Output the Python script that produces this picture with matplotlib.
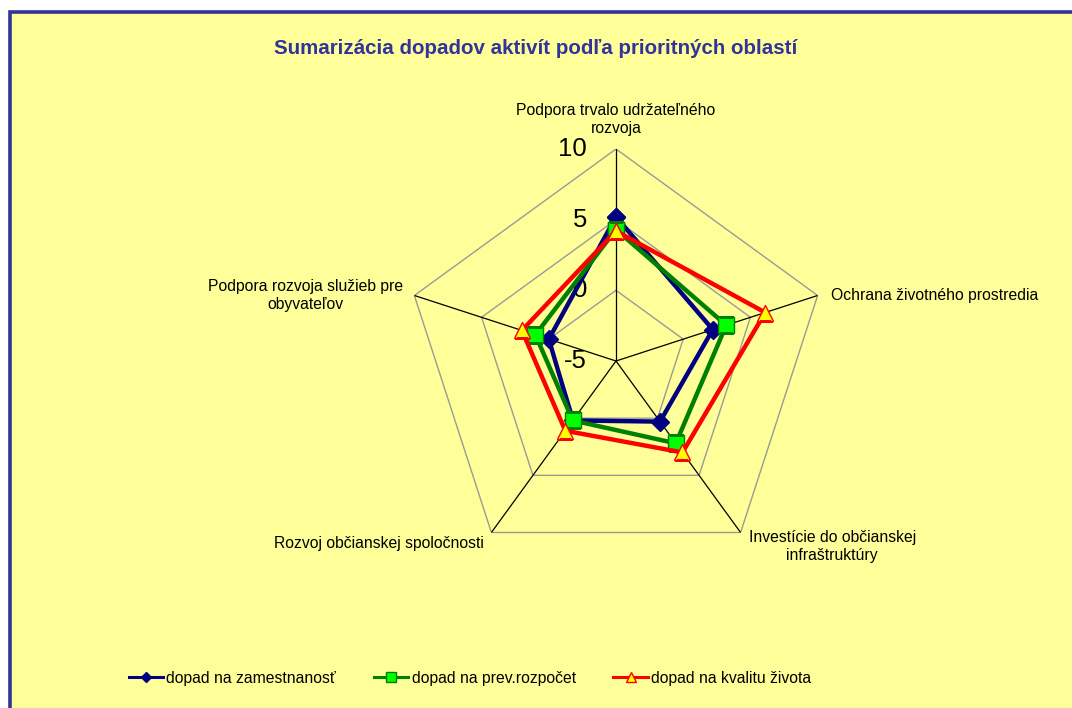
import numpy as np
import matplotlib
matplotlib.use("Agg")
import matplotlib.pyplot as plt
from matplotlib.patches import Rectangle

plt.rcParams['font.family'] = ['Liberation Sans', 'DejaVu Sans']

# data
categories = ["Podpora trvalo udržateľného\nrozvoja",
              "Ochrana životného prostredia",
              "Investície do občianskej\ninfraštruktúry",
              "Rozvoj občianskej spoločnosti",
              "Podpora rozvoja služieb pre\nobyvateľov"]
zamestnanost = [5.2, 2.2, 0.3, 0.2, 0.0]
rozpocet = [4.3, 3.2, 2.2, 0.2, 1.0]
kvalita = [4.2, 6.1, 3.0, 1.1, 2.0]
series_names = ["dopad na zamestnanosť", "dopad na prev.rozpočet", "dopad na kvalitu života"]
ring_values = [-5, 0, 5, 10]
title = "Sumarizácia dopadov aktivít podľa prioritných oblastí"

W, H = 1072, 708
fig = plt.figure(figsize=(W / 100, H / 100), dpi=100)
fig.patch.set_facecolor('white')

# yellow chart area with navy border on top/left
fig.add_artist(Rectangle((10 / W, -0.05), 1.1, 1.05 - 12 / H, transform=fig.transFigure,
                         facecolor='#FFFF99', edgecolor='#333399', lw=2.6, zorder=0))

cx, cy, R = 616, 361, 212
ax = fig.add_axes([(cx - R) / W, 1 - (cy + R) / H, 2 * R / W, 2 * R / H], projection='polar')
ax.set_facecolor('none')
ax.set_theta_offset(np.pi / 2)
ax.set_theta_direction(-1)
ax.set_ylim(-5, 10)
ax.grid(False)
ax.set_xticks([])
ax.set_yticks([])
ax.spines['polar'].set_visible(False)

n = len(categories)
theta = np.linspace(0, 2 * np.pi, n, endpoint=False)
theta_c = np.append(theta, theta[0])

for v in ring_values[1:]:
    ax.plot(theta_c, [v] * (n + 1), color='#999999', lw=1, zorder=1)
for t in theta:
    ax.plot([t, t], [-5, 10], color='black', lw=0.9, zorder=2)

for v in ring_values:
    ax.annotate(str(v), xy=(0, v), xytext=(-29, 0), textcoords='offset pixels',
                ha='right', va='center', fontsize=18.5, color='black')

# category labels
offsets = [((0, 30), 'center', 'center'),
           ((13, 0), 'left', 'center'),
           ((8, 3), 'left', 'top'),
           ((-8, -3), 'right', 'top'),
           ((-11, 0), 'right', 'center')]
for t, lab, (off, ha, va) in zip(theta, categories, offsets):
    ax.annotate(lab, xy=(t, 10), xytext=off, textcoords='offset pixels',
                ha=ha, va=va, fontsize=11.3, multialignment='center', annotation_clip=False,
                linespacing=1.25)

def close(vals):
    return list(vals) + [vals[0]]

l1, = ax.plot(theta_c, close(zamestnanost), color='#000080', lw=3.2, marker='D', ms=9,
              mfc='#000080', mec='#000080', zorder=3, label=series_names[0])
l2, = ax.plot(theta_c, close(rozpocet), color='#008000', lw=3.2, marker='s', ms=11,
              mfc='#00FF00', mec='#008000', zorder=4, label=series_names[1])
l3, = ax.plot(theta_c, close(kvalita), color='#FF0000', lw=3.2, marker='^', ms=12,
              mfc='#FFFF00', mec='#FF0000', zorder=5, label=series_names[2])

fig.text(536 / W, 1 - 48 / H, title, ha='center', va='center', fontsize=14.75,
         fontweight='bold', color='#333399')

leg = fig.legend(handles=[l1, l2, l3], loc='center', bbox_to_anchor=(470 / W, 1 - 678 / H),
                 ncol=3, frameon=False, fontsize=11.3, handlelength=2.2, handletextpad=0.2,
                 columnspacing=2.4, markerscale=0.6)
for h in leg.legend_handles:
    h.set_linewidth(2.2)

fig.savefig("out.png", dpi=100)
